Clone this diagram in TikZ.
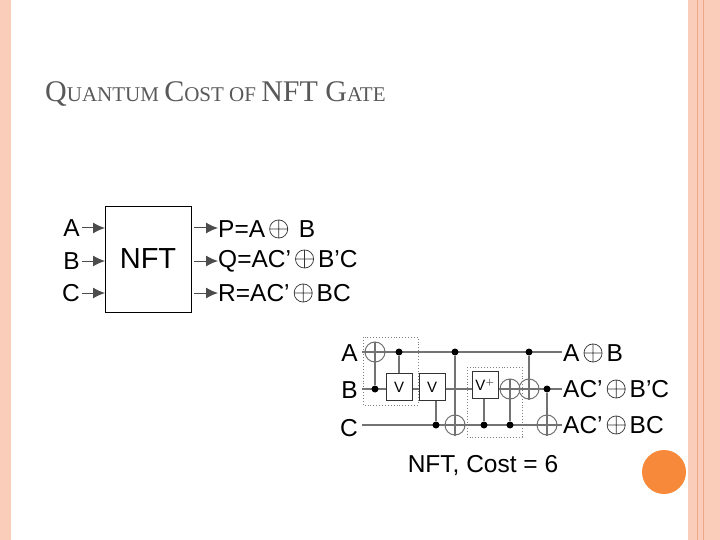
\documentclass[tikz,border=0pt]{standalone}
\usepackage{fontspec}
\setmainfont{Liberation Sans}
\newfontfamily\serifT{Liberation Serif}
\newcommand{\xo}{\,\tikz[baseline=-0.36em]{\draw[line width=0.7pt,black!80] (0,0) circle (0.37em) (-0.37em,0) -- (0.37em,0) (0,-0.37em) -- (0,0.37em);}\,}
\usetikzlibrary{arrows.meta}
\begin{document}
\begin{tikzpicture}[x=1pt,y=-1pt,
  lbl/.style={inner sep=0pt,font=\fontsize{24.5}{26}\selectfont},
  wire/.style={draw=gray!90!black,line width=1.1pt},
  ctl/.style={circle,fill=black,inner sep=0pt,minimum size=7pt},
  tgt/.style={circle,draw=gray!90!black,line width=1pt,inner sep=0pt,minimum size=20pt},
  vbox/.style={draw=black!80,fill=white,line width=1pt,minimum width=26pt,minimum height=27pt,inner sep=0pt,font=\fontsize{15}{16}\selectfont},
  dbox/.style={draw=gray,dotted,line width=0.9pt},
  arr/.style={-{Latex[length=12pt,width=11pt]},line width=1pt,draw=gray!60!black}]
\useasboundingbox (0,0) rectangle (720,540);
\fill[white] (0,0) rectangle (720,540);
\definecolor{bord}{HTML}{F9CDBA}
\definecolor{bordl}{HTML}{EFA888}
\definecolor{orng}{HTML}{F68A3A}
\fill[bord] (0,0) rectangle (11,540);
\fill[bord] (688,0) rectangle (720,540);
\draw[bordl,line width=0.8pt] (697,0) -- (697,540);
\draw[bordl,line width=0.8pt] (703,0) -- (703,540);
\node[anchor=base west,inner sep=0pt,text=black!65,font=\serifT] (title) at (45,102)
 {\fontsize{30}{30}\selectfont Q\fontsize{21}{22}\selectfont UANTUM \fontsize{30}{30}\selectfont C\fontsize{21}{22}\selectfont OST OF \fontsize{30}{30}\selectfont NFT G\fontsize{21}{22}\selectfont ATE};
\node[draw,line width=1.3pt,minimum width=86pt,minimum height=106pt,inner sep=0pt,anchor=north west] (nft) at (105,206) {};
\node[font=\fontsize{29}{30}\selectfont,inner sep=0pt] (nftt) at (148,259) {NFT};
\foreach \n/\t/\y in {a/A/228,b/B/261,c/C/293}{
  \node[lbl,anchor=east] (i\n) at (80,\y) {\t};
  \draw[arr] (i\n.east)++(2,0) -- (nft.west |- 0,\y);
}
\node[lbl,anchor=west] (op) at (218,229) {P=A\xo\ B};
\node[lbl,anchor=west] (oq) at (218,261) {Q=AC’\xo B’C};
\node[lbl,anchor=west] (or) at (218,293) {R=AC’\xo BC};
\foreach \o/\y in {op/228,oq/261,or/293}{
  \draw[arr] (nft.east |- 0,\y)++(2,0) -- (\o.west |- 0,\y);
}
\node[lbl,anchor=east] (ca) at (358,353) {A};
\node[lbl,anchor=east] (cb) at (358,390) {B};
\node[lbl,anchor=east] (cc) at (358,428) {C};
\coordinate (wa0) at (362,352); \coordinate (wa1) at (562,352);
\coordinate (wb0) at (362,389); \coordinate (wb1) at (562,389);
\coordinate (wc0) at (362,425); \coordinate (wc1) at (562,425);
\draw[wire] (wa0) -- (wa1); \draw[wire] (wb0) -- (wb1); \draw[wire] (wc0) -- (wc1);
\draw[dbox] (363,337) rectangle (418,405);
\draw[dbox] (467,367) rectangle (522,437);
\node[tgt] (t1) at (375,352) {}; \node[ctl] (c1) at (375,389) {};
\draw[wire] (t1.north) -- (c1); \draw[wire] (t1.west) -- (t1.east);
\node[ctl] (c2) at (399,352) {}; \node[vbox] (v1) at (399,387) {V};
\draw[wire] (c2) -- (v1.north);
\node[vbox] (v2) at (432,387) {V}; \node[ctl] (c3) at (436,425) {};
\draw[wire] (c3) -- (c3 |- v2.south);
\node[ctl] (c4) at (455,352) {}; \node[tgt] (t4) at (455,425) {};
\draw[wire] (c4) -- (t4.south); \draw[wire] (t4.west) -- (t4.east);
\node[vbox] (v3) at (485,385) {V$^{+}$}; \node[ctl] (c5) at (484,425) {};
\draw[wire] (c5) -- (c5 |- v3.south);
\node[tgt] (t6) at (510,389) {}; \node[ctl] (c6) at (510,425) {};
\draw[wire] (t6.north) -- (c6); \draw[wire] (t6.west) -- (t6.east);
\node[ctl] (c7) at (529,352) {}; \node[tgt] (t7) at (529,389) {};
\draw[wire] (c7) -- (t7.south); \draw[wire] (t7.west) -- (t7.east);
\node[ctl] (c8) at (547,389) {}; \node[tgt] (t8) at (547,425) {};
\draw[wire] (c8) -- (t8.south); \draw[wire] (t8.west) -- (t8.east);
\node[lbl,anchor=west] (oa) at (563,353) {A\xo B};
\node[lbl,anchor=west] (ob) at (563,389) {AC’\xo B’C};
\node[lbl,anchor=west] (oc) at (563,425) {AC’\xo BC};
\node[lbl] (cap) at (483,466) {NFT, Cost = 6};
\fill[orng] (664,472) circle (22);
\end{tikzpicture}
\end{document}
